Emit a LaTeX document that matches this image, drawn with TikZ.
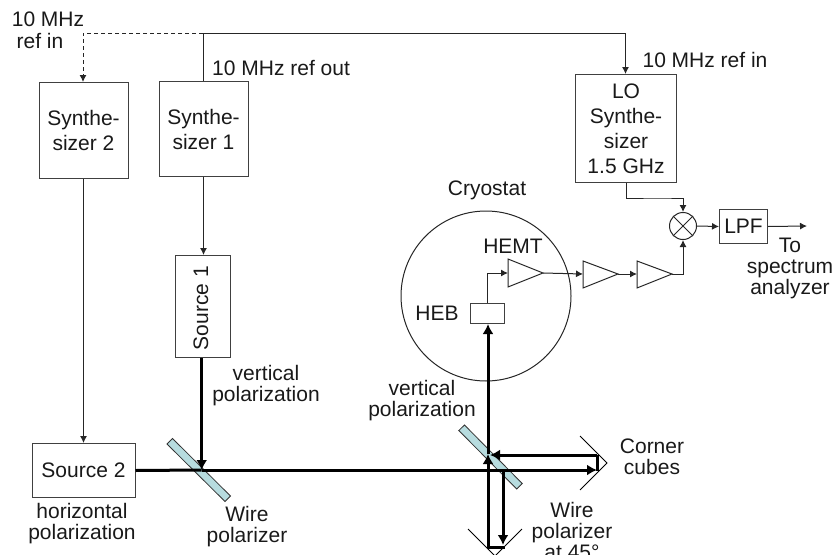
\documentclass[tikz,border=0pt]{standalone}
\usepackage{fontspec}
\setmainfont{Liberation Sans}
\usetikzlibrary{arrows.meta}
\definecolor{polfill}{HTML}{B7DCDF}
\tikzset{
  lab/.style={inner sep=0pt,align=center,font=\fontsize{21}{21}\selectfont,text=black!90},
  boxn/.style={draw=black!75,line width=1pt,inner sep=0pt,align=center,font=\fontsize{21}{25}\selectfont,text=black!90,anchor=north west},
  thin line/.style={draw=black!85,line width=1pt},
  sig/.style={thin line,-{Latex[length=7pt,width=7pt]}},
  beam/.style={draw=black,line width=3pt},
  beamarrow/.style={beam,-{Latex[length=10pt,width=11pt]}},
  pol/.style={draw=black!80,line width=.8pt,fill=polfill},
  amp/.style={draw=black!85,line width=1pt,fill=white},
  cube/.style={draw=black,line width=1pt},
}
\begin{document}
\begin{tikzpicture}[x=1pt,y=-1pt]
\useasboundingbox (0,0) rectangle (840,554);
\clip (0,0) rectangle (840,554);
% boxes
\node[boxn,minimum width=89pt,minimum height=96pt] (syn2) at (38.5,82) {Synthe-\\sizer 2};
\node[boxn,minimum width=89pt,minimum height=95pt] (syn1) at (158.5,81) {Synthe-\\sizer 1};
\node[boxn,minimum width=101pt,minimum height=108pt] (lo) at (575,74) {LO\\Synthe-\\sizer\\1.5 GHz};
\node[boxn,minimum width=55pt,minimum height=102pt] (src1) at (174.5,255) {\rotatebox{90}{\kern-3pt Source 1}\hspace{3pt}};
\node[boxn,minimum width=103pt,minimum height=54pt] (src2) at (31.5,443) {Source 2};
\node[boxn,minimum width=48pt,minimum height=34pt] (lpf) at (719,209) {LPF};
\node[boxn,minimum width=34pt,minimum height=20pt] (heb) at (470,303) {};
% cryostat
\node[draw=black!85,line width=1pt,circle,minimum size=170pt,inner sep=0pt] (cryo) at (486,296) {};
% mixer
\node[draw=black!85,line width=1pt,circle,minimum size=27pt,inner sep=0pt] (mix) at (683,226) {};
\draw[thin line] (mix.north west)--(mix.south east) (mix.north east)--(mix.south west);
% reference lines
\coordinate (j1) at (203,33);
\coordinate (c1) at (83,33);
\coordinate (c2) at (625.5,33);
\draw[thin line] (j1) -- (j1 |- syn1.north);
\draw[sig] (j1) -- (c2) -- (c2 |- lo.north);
\draw[sig,dash pattern=on 4pt off 3pt] (j1) -- (c1) -- (c1 |- syn2.north);
\draw[sig] (syn2.south) -- (syn2.south |- src2.north);
\draw[sig] (syn1.south) -- (syn1.south |- src1.north);
% IF chain
\coordinate (a1w) at (508,273); \coordinate (a1e) at (543,273);
\coordinate (a2w) at (583,274); \coordinate (a2e) at (618,274);
\coordinate (a3w) at (637,274); \coordinate (a3e) at (672,274);
\draw[sig] (heb.north) |- (a1w);
\draw[sig] (a1e) -- (a2w);
\draw[sig] (a2e) -- (a3w);
\draw[sig] (a3e) -| (mix.south);
\draw[amp] (508,259)--(a1e)--(508,287)--cycle;
\draw[amp] (583,261)--(a2e)--(583,288)--cycle;
\draw[amp] (637,261)--(a3e)--(637,288)--cycle;
\draw[sig] (lo.south) |- (660,198) -| (mix.north);
\draw[sig] (mix.east) -- (lpf.west);
\coordinate (out) at (807,226);
\draw[sig] (lpf.east) -- (out);
% polarizers
\draw[pol] (167,444)--(172.5,438.5)--(230.5,496)--(225,501.5)--cycle;
\draw[pol] (458.8,430.5)--(464.5,425)--(522.2,483.5)--(516.7,489)--cycle;
% beams
\coordinate (b1) at (201.7,470);
\coordinate (b2) at (488,470);
\coordinate (c3) at (597,470);
\coordinate (c4) at (597,455);
\coordinate (c5) at (490,455);
\coordinate (c6) at (503,470);
\coordinate (c7) at (503,545);
\coordinate (c8) at (488,547);
\coordinate (c9) at (488,454);
\draw[beamarrow] (src1.south -| b1) -- (b1);
\draw[beam] (src2.east) -- (b1);
\draw[beamarrow] (b1) -- (c3);
\draw[beam] (597,471) -- (c4);
\draw[beamarrow] (c4) -- (c5);
\draw[beamarrow] (c6) -- (c7);
\draw[beam] (504.5,547) -- (c8);
\draw[beamarrow] (488,548.5) -- (c9);
\draw[beamarrow] (c9) -- (c9 |- heb.south);
% corner cubes
\draw[cube] (580,436)--(607,463)--(580,490);
\draw[cube] (468,529)--(495,556)--(522,529);
% labels
\node[lab] at (48,19) {10 MHz};
\node[lab] at (40,41) {ref in};
\node[lab,anchor=west] at (212,68) {10 MHz ref out};
\node[lab] at (705,60) {10 MHz ref in};
\node[lab] at (487,190) {Cryostat};
\node[lab] at (513,246) {HEMT};
\node[lab] at (437,313) {HEB};
\node[lab] at (790,268) {To\\spectrum\\analyzer};
\node[lab] at (266,386) {vertical\\polarization};
\node[lab] at (422,400.5) {vertical\\polarization};
\node[lab] at (652,457) {Corner\\cubes};
\node[lab] at (572,531) {Wire\\polarizer\\at 45°};
\node[lab] at (82,523.5) {horizontal\\polarization};
\node[lab] at (247,527) {Wire\\polarizer};
\end{tikzpicture}
\end{document}
